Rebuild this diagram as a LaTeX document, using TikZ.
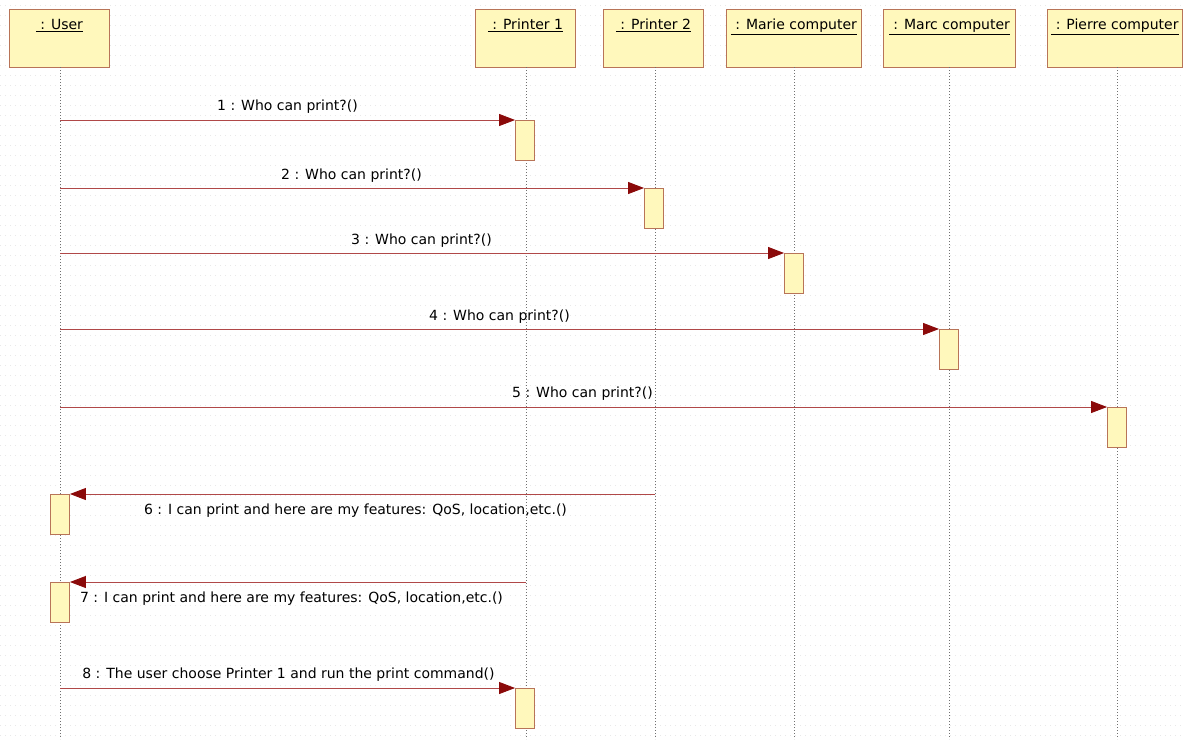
\documentclass[tikz,border=0pt]{standalone}
\usepackage{fontspec}
\setmainfont{DejaVu Sans}
\usetikzlibrary{arrows.meta}
\definecolor{boxfill}{HTML}{FFF8BC}
\definecolor{boxline}{HTML}{B87458}
\definecolor{msgline}{HTML}{B04848}
\definecolor{tipcol}{HTML}{8B0A0A}
\definecolor{lifecol}{HTML}{707070}
\tikzset{
  head/.style={draw=boxline, fill=boxfill, line width=0.9pt, minimum height=58pt, anchor=north west, inner sep=0pt},
  headlabel/.style={anchor=north, inner sep=0pt, font=\fontsize{14}{16}\selectfont},
  act/.style={draw=boxline, fill=boxfill, line width=0.9pt, minimum width=19pt, minimum height=40pt, anchor=north, inner sep=0pt},
  life/.style={draw=lifecol, line width=0.8pt, dash pattern=on 1pt off 2pt},
  msg/.style={draw=msgline, line width=0.9pt, -{Triangle[length=16pt,width=12pt,color=tipcol]}},
  msglabel/.style={inner sep=0pt, font=\fontsize{14}{16}\selectfont},
}
\begin{document}
\begin{tikzpicture}[x=1pt,y=-1pt]
\useasboundingbox (0,0) rectangle (1183,739);
\fill[white] (0,0) rectangle (1183,739);
% faint background grid
\foreach \yy in {5,15,...,735} \draw[black!9, line width=0.5pt, dash pattern=on 1pt off 4pt] (0,\yy) -- (1183,\yy);

% heads
\node[head, minimum width=100pt] (user) at (9,9) {};
\node[head, minimum width=100pt] (p1) at (475,9) {};
\node[head, minimum width=100pt] (p2) at (603,9) {};
\node[head, minimum width=135pt] (marie) at (726,9) {};
\node[head, minimum width=132pt] (marc) at (883,9) {};
\node[head, minimum width=135pt] (pierre) at (1047,9) {};
\node[headlabel] (userl) at ([yshift=-10pt]user.north) {\underline{\ : User}};
\node[headlabel] (p1l) at ([yshift=-10pt]p1.north) {\underline{\ : Printer 1}};
\node[headlabel] (p2l) at ([yshift=-10pt]p2.north) {\underline{\ : Printer 2}};
\node[headlabel] (mariel) at ([yshift=-10pt]marie.north) {\underline{\ : Marie computer}};
\node[headlabel] (marcl) at ([yshift=-10pt]marc.north) {\underline{\ : Marc computer}};
\node[headlabel] (pierrel) at ([yshift=-10pt]pierre.north) {\underline{\ : Pierre computer}};

% lifelines
\coordinate (uTop) at (60,67);   \coordinate (uBot) at (60,739);
\coordinate (p1Top) at (526,67); \coordinate (p1Bot) at (526,739);
\coordinate (p2Top) at (655,67); \coordinate (p2Bot) at (655,739);
\coordinate (maTop) at (794,67); \coordinate (maBot) at (794,739);
\coordinate (mcTop) at (949,67); \coordinate (mcBot) at (949,739);
\coordinate (piTop) at (1117,67);\coordinate (piBot) at (1117,739);
\draw[life] (uTop) -- (uBot);
\draw[life] (p1Top) -- (p1Bot);
\draw[life] (p2Top) -- (p2Bot);
\draw[life] (maTop) -- (maBot);
\draw[life] (mcTop) -- (mcBot);
\draw[life] (piTop) -- (piBot);

% activations
\node[act] (a1) at (525,120) {};
\node[act] (a2) at (654,188) {};
\node[act] (a3) at (794,253) {};
\node[act] (a4) at (949,329) {};
\node[act] (a5) at (1117,407) {};
\node[act] (a6) at (60,494) {};
\node[act] (a7) at (60,582) {};
\node[act] (a8) at (525,688) {};

% message start points
\coordinate (s1) at (60,120);
\coordinate (s2) at (60,188);
\coordinate (s3) at (60,253);
\coordinate (s4) at (60,329);
\coordinate (s5) at (60,407);
\coordinate (s6) at (655,494);
\coordinate (s7) at (526,582);
\coordinate (s8) at (60,688);

\draw[msg] (s1) -- (a1.north west);
\draw[msg] (s2) -- (a2.north west);
\draw[msg] (s3) -- (a3.north west);
\draw[msg] (s4) -- (a4.north west);
\draw[msg] (s5) -- (a5.north west);
\draw[msg] (s6) -- (a6.north east);
\draw[msg] (s7) -- (a7.north east);
\draw[msg] (s8) -- (a8.north west);

% labels
\node[msglabel] (l1) at (287.5,107) {1 : Who can print?()};
\node[msglabel] (l2) at (351.5,176) {2 : Who can print?()};
\node[msglabel] (l3) at (421.5,241) {3 : Who can print?()};
\node[msglabel] (l4) at (499.5,317) {4 : Who can print?()};
\node[msglabel] (l5) at (582.5,394) {5 : Who can print?()};
\node[msglabel] (l6) at (355.5,511) {6 : I can print and here are my features: QoS, location,etc.()};
\node[msglabel] (l7) at (291.5,599) {7 : I can print and here are my features: QoS, location,etc.()};
\node[msglabel] (l8) at (288.5,675) {8 : The user choose Printer 1 and run the print command()};
\end{tikzpicture}
\end{document}
